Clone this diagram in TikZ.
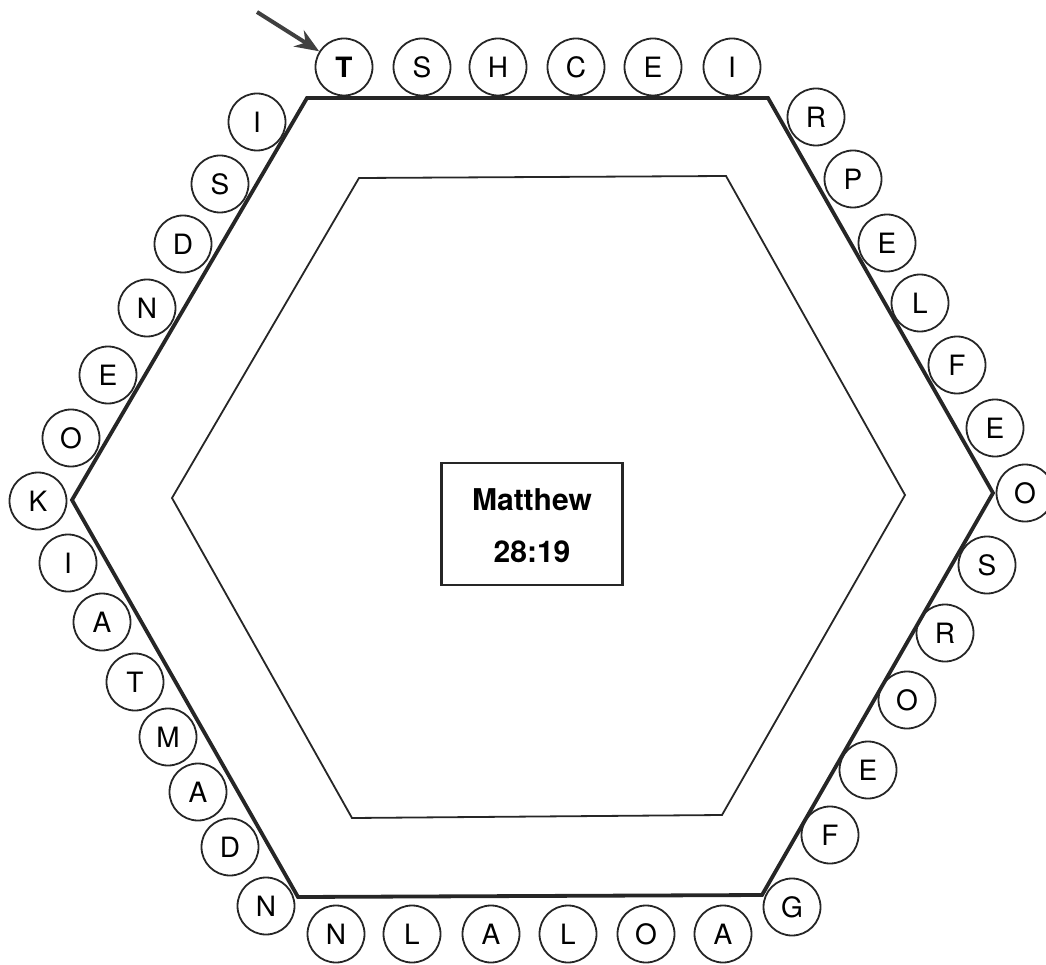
\documentclass[tikz,border=0pt]{standalone}
\usepackage{fontspec}
\setmainfont{TeX Gyre Heros}
\usetikzlibrary{arrows.meta}

\tikzset{
  letter/.style={circle, draw=black!85, line width=1.8pt, minimum size=57pt, inner sep=0pt,
    font=\fontsize{28}{28}\selectfont},
  outerhex/.style={draw=black!85, line width=3.8pt, line join=miter},
  innerhex/.style={draw=black!85, line width=1.8pt, line join=miter},
  pointer/.style={-{Stealth[length=24pt, width=19pt]}, line width=4pt, draw=black!75}
}

\begin{document}
\begin{tikzpicture}[x=1pt, y=-1pt]
\useasboundingbox (0,0) rectangle (1046,965);

% hexagons
\draw[outerhex] (307,98) -- (768,98) -- (993,493) -- (762,895) -- (298,897) -- (72,500) -- cycle;
\draw[innerhex] (359,178) -- (726,176) -- (905,495) -- (722,815) -- (352,818) -- (172,498) -- cycle;

% verse
\node[draw=black!85, line width=2.2pt, minimum width=181pt, minimum height=122pt] at(532,524)(verse){};
\node[font=\fontsize{30}{30}\selectfont\bfseries] at(532,500)(book){Matthew};
\node[font=\fontsize{30}{30}\selectfont\bfseries] at(532,552)(ref){28:19};

% top side
\node[letter, font=\fontsize{28}{28}\selectfont\bfseries] at(344,67)(top1){T};
\node[letter] at(422,67)(top2){S};
\node[letter] at(498,67)(top3){H};
\node[letter] at(576,67)(top4){C};
\node[letter] at(653,67)(top5){E};
\node[letter] at(732,67)(top6){I};

% upper right side
\node[letter] at(816,117)(ur1){R};
\node[letter] at(853,179)(ur2){P};
\node[letter] at(887,243)(ur3){E};
\node[letter] at(920,303)(ur4){L};
\node[letter] at(957,365)(ur5){F};
\node[letter] at(995,428)(ur6){E};
\node[letter] at(1025,493)(ur7){O};

% lower right side
\node[letter] at(987,565)(lr1){S};
\node[letter] at(945,633)(lr2){R};
\node[letter] at(907,700)(lr3){O};
\node[letter] at(868,770)(lr4){E};
\node[letter] at(830,835)(lr5){F};
\node[letter] at(792,907)(lr6){G};

% bottom side
\node[letter] at(723,934)(bot1){A};
\node[letter] at(646,934)(bot2){O};
\node[letter] at(568,934)(bot3){L};
\node[letter] at(491,934)(bot4){A};
\node[letter] at(412,934)(bot5){L};
\node[letter] at(336,934)(bot6){N};

% lower left side
\node[letter] at(266,906)(ll1){N};
\node[letter] at(230,847)(ll2){D};
\node[letter] at(198,792)(ll3){A};
\node[letter] at(168,737)(ll4){M};
\node[letter] at(135,682)(ll5){T};
\node[letter] at(102,622)(ll6){A};
\node[letter] at(68,563)(ll7){I};
\node[letter] at(38,501)(ll8){K};

% upper left side
\node[letter] at(71,438)(ul1){O};
\node[letter] at(108,375)(ul2){E};
\node[letter] at(147,308)(ul3){N};
\node[letter] at(183,244)(ul4){D};
\node[letter] at(220,184)(ul5){S};
\node[letter] at(257,122)(ul6){I};

% start here
\coordinate (start) at(257,12);
\draw[pointer] (start) -- (top1);
\end{tikzpicture}
\end{document}
